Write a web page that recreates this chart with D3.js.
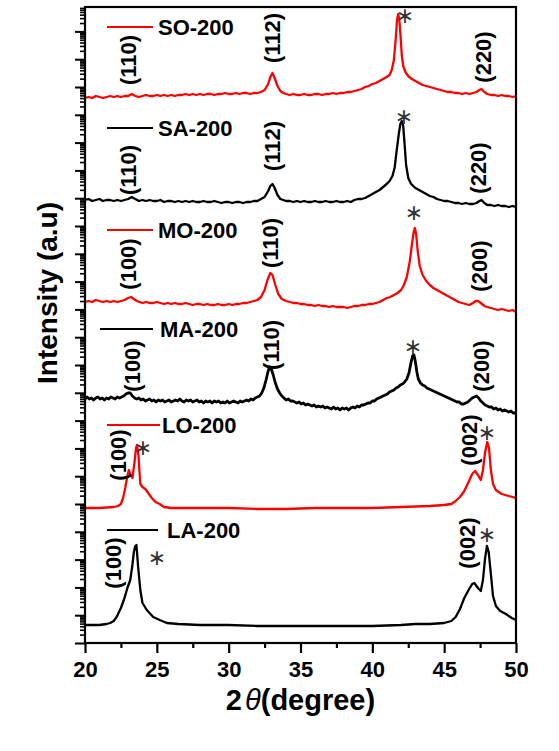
<!DOCTYPE html>
<html><head><meta charset="utf-8">
<script src="https://cdn.jsdelivr.net/npm/d3@7"></script>
<style>body{margin:0;background:#fff}svg{display:block}</style>
</head><body>
<svg id="chart" width="559" height="751"></svg>
<script>
// ---------------- DATA ----------------
const seriesNames = ["SO-200", "SA-200", "MO-200", "MA-200", "LO-200", "LA-200"];
const seriesColors = ["#ff0000", "#000000", "#ff0000", "#000000", "#ff0000", "#000000"];
// vertical stacking offsets (a.u.)
const seriesOffsets = [545, 443, 341, 244, 135, 18];
const xTicks = [20, 25, 30, 35, 40, 45, 50];

// [2theta, intensity relative to offset]
const soData = [[20,0],[20.25,1],[20.5,0],[20.75,2],[21,1],[21.25,0],[21.5,1],[21.75,2],[22,1],[22.25,2],[22.5,1],[22.75,2],[23,2],[23.25,4],[23.5,2],[23.75,1],[24,2],[24.25,3],[24.5,2],[24.75,2],[25,3],[25.25,2],[25.5,3],[25.75,2],[26,3],[26.25,2],[26.5,3],[26.75,3],[27,4],[27.25,3],[27.5,4],[27.75,3],[28,4],[28.25,3],[28.5,4],[28.75,4],[29,3],[29.25,4],[29.5,4],[29.75,5],[30,4],[30.25,4],[30.5,5],[30.75,4],[31,5],[31.25,5],[31.5,4],[31.75,5],[32,5],[32.25,6],[32.5,8],[32.75,14],[32.9,21],[33.05,25],[33.2,20],[33.4,12],[33.6,7],[33.8,5],[34,4],[34.25,3],[34.5,4],[34.75,3],[35,3],[35.25,4],[35.5,3],[35.75,3],[36,4],[36.25,4],[36.5,3],[36.75,4],[37,4],[37.25,5],[37.5,4],[37.75,5],[38,5],[38.25,6],[38.5,6],[38.75,7],[39,8],[39.25,9],[39.5,11],[39.75,12],[40,14],[40.25,15],[40.5,17],[40.75,19],[41,21],[41.2,23],[41.35,28],[41.5,38],[41.62,58],[41.72,78],[41.8,84],[41.88,78],[41.96,63],[42.05,43],[42.15,32],[42.3,26],[42.5,22],[42.75,19],[43,17],[43.25,15],[43.5,13],[43.75,12],[44,11],[44.25,10],[44.5,9],[44.75,8],[45,7],[45.25,6],[45.5,6],[45.75,5],[46,5],[46.25,4],[46.5,5],[46.75,4],[47,5],[47.25,6],[47.45,8],[47.6,9],[47.8,6],[48,4],[48.25,3],[48.5,3],[48.75,2],[49,3],[49.25,2],[49.5,2],[49.75,1],[50,2]];

const saData = [[20,0],[20.25,1],[20.5,-1],[20.75,0],[21,1],[21.25,-1],[21.5,0],[21.75,0],[22,-1],[22.25,0],[22.5,-1],[22.75,0],[23,1],[23.25,3],[23.5,1],[23.75,-1],[24,0],[24.25,-1],[24.5,0],[24.75,-1],[25,-1],[25.25,0],[25.5,-2],[25.75,-1],[26,-1],[26.25,-2],[26.5,-1],[26.75,-2],[27,-1],[27.25,-2],[27.5,-1],[27.75,-2],[28,-2],[28.25,-1],[28.5,-2],[28.75,-2],[29,-1],[29.25,-2],[29.5,-3],[29.75,-2],[30,-2],[30.25,-3],[30.5,-2],[30.75,-2],[31,-3],[31.25,-2],[31.5,-2],[31.75,-1],[32,-1],[32.25,1],[32.5,3],[32.75,9],[32.9,14],[33.05,16],[33.2,12],[33.4,5],[33.6,1],[33.8,0],[34,-1],[34.25,-1],[34.5,-2],[34.75,-1],[35,-2],[35.25,-1],[35.5,-2],[35.75,-2],[36,-1],[36.25,-2],[36.5,-2],[36.75,-1],[37,-2],[37.25,-2],[37.5,-1],[37.75,-2],[38,-2],[38.25,-1],[38.5,-2],[38.75,0],[39,1],[39.25,1],[39.5,2],[39.75,4],[40,6],[40.25,8],[40.5,10],[40.75,13],[41,16],[41.2,19],[41.4,24],[41.55,32],[41.7,50],[41.85,67],[41.95,76],[42.05,79],[42.15,74],[42.25,55],[42.35,35],[42.5,22],[42.7,16],[43,12],[43.25,10],[43.5,8],[43.75,6],[44,4],[44.25,3],[44.5,1],[44.75,0],[45,-1],[45.25,-1],[45.5,-2],[45.75,-3],[46,-3],[46.25,-4],[46.5,-3],[46.75,-4],[47,-4],[47.25,-3],[47.45,-1],[47.6,0],[47.8,-3],[48,-5],[48.25,-5],[48.5,-6],[48.75,-5],[49,-6],[49.25,-6],[49.5,-7],[49.75,-6],[50,-7]];

const moData = [[20,0],[20.25,1],[20.5,0],[20.75,2],[21,1],[21.25,0],[21.5,1],[21.75,0],[22,1],[22.25,0],[22.5,1],[22.75,2],[23,4],[23.2,5],[23.4,3],[23.6,1],[23.8,0],[24,-1],[24.25,0],[24.5,-1],[24.75,-1],[25,0],[25.25,-1],[25.5,-2],[25.75,-1],[26,-2],[26.25,-1],[26.5,-2],[26.75,-2],[27,-1],[27.25,-2],[27.5,-3],[27.75,-2],[28,-2],[28.25,-3],[28.5,-2],[28.75,-3],[29,-3],[29.25,-2],[29.5,-3],[29.75,-3],[30,-2],[30.25,-3],[30.5,-2],[30.75,-2],[31,-1],[31.25,-1],[31.5,0],[31.75,1],[32,2],[32.25,5],[32.5,12],[32.7,22],[32.9,29],[33.05,27],[33.25,17],[33.45,8],[33.7,3],[34,1],[34.25,0],[34.5,-1],[34.75,-1],[35,-2],[35.25,-2],[35.5,-3],[35.75,-3],[36,-4],[36.25,-3],[36.5,-4],[36.75,-4],[37,-5],[37.25,-4],[37.5,-5],[37.75,-5],[38,-5],[38.25,-6],[38.5,-5],[38.75,-4],[39,-4],[39.25,-3],[39.5,-3],[39.75,-2],[40,-2],[40.25,-1],[40.5,0],[40.75,2],[41,4],[41.25,5],[41.5,7],[41.75,9],[42,12],[42.2,17],[42.4,25],[42.6,40],[42.75,57],[42.88,70],[42.96,74],[43.05,68],[43.15,52],[43.3,36],[43.5,27],[43.75,21],[44,17],[44.25,14],[44.5,12],[44.75,10],[45,8],[45.25,6],[45.5,4],[45.75,2],[46,0],[46.25,-1],[46.5,-2],[46.75,-3],[47,-1],[47.2,1],[47.35,1],[47.55,-1],[47.8,-4],[48,-5],[48.25,-6],[48.5,-7],[48.75,-8],[49,-7],[49.25,-8],[49.5,-9],[49.75,-8],[50,-10]];

const maData = [[20,0],[20.15,2],[20.3,0],[20.45,1],[20.6,-1],[20.75,1],[20.9,2],[21.05,0],[21.2,1],[21.35,-1],[21.5,1],[21.65,0],[21.8,2],[21.95,1],[22.1,0],[22.25,2],[22.4,1],[22.55,2],[22.7,3],[22.85,5],[23.0,6],[23.15,6],[23.3,3],[23.45,1],[23.6,0],[23.75,1],[23.9,-1],[24.05,0],[24.2,-2],[24.35,-1],[24.5,0],[24.65,-2],[24.8,-1],[24.95,-3],[25.1,-1],[25.25,-2],[25.4,-1],[25.55,-3],[25.7,-2],[25.85,-1],[26.0,-3],[26.15,-2],[26.3,-1],[26.45,-2],[26.6,0],[26.75,-2],[26.9,-3],[27.05,-1],[27.2,-2],[27.35,-1],[27.5,-3],[27.65,-2],[27.8,-1],[27.95,-3],[28.1,-2],[28.25,-4],[28.4,-2],[28.55,-3],[28.7,-2],[28.85,-4],[29.0,-2],[29.15,-3],[29.3,-2],[29.45,-4],[29.6,-3],[29.75,-4],[29.9,-2],[30.05,-4],[30.2,-3],[30.35,-2],[30.5,-3],[30.65,-4],[30.8,-2],[30.95,-3],[31.1,-2],[31.25,-1],[31.4,-2],[31.55,0],[31.7,-1],[31.85,1],[32.0,2],[32.15,3],[32.3,6],[32.45,11],[32.6,19],[32.75,28],[32.85,32],[32.95,31],[33.1,24],[33.25,16],[33.4,10],[33.55,6],[33.7,3],[33.85,1],[34.0,-1],[34.15,0],[34.3,-2],[34.45,-2],[34.6,-3],[34.75,-4],[34.9,-3],[35.05,-5],[35.2,-4],[35.35,-6],[35.5,-5],[35.65,-6],[35.8,-7],[35.95,-6],[36.1,-8],[36.25,-7],[36.4,-8],[36.55,-7],[36.7,-9],[36.85,-8],[37.0,-9],[37.15,-10],[37.3,-8],[37.45,-10],[37.6,-9],[37.75,-11],[37.9,-9],[38.05,-10],[38.2,-9],[38.35,-11],[38.5,-9],[38.65,-8],[38.8,-9],[38.95,-7],[39.1,-8],[39.25,-6],[39.4,-6],[39.55,-5],[39.7,-4],[39.85,-4],[40.0,-2],[40.15,-2],[40.3,0],[40.45,1],[40.6,2],[40.75,3],[40.9,4],[41.05,5],[41.2,7],[41.35,8],[41.5,9],[41.65,11],[41.8,12],[41.95,14],[42.1,15],[42.25,17],[42.4,20],[42.55,26],[42.7,37],[42.8,43],[42.9,44],[43.0,37],[43.1,27],[43.2,20],[43.35,16],[43.5,14],[43.65,13],[43.8,11],[43.95,10],[44.1,9],[44.25,8],[44.4,7],[44.55,6],[44.7,5],[44.85,4],[45.0,3],[45.15,2],[45.3,1],[45.45,0],[45.6,-1],[45.75,-2],[45.9,-3],[46.05,-3],[46.2,-5],[46.35,-5],[46.5,-4],[46.65,-3],[46.8,-1],[46.95,1],[47.1,2],[47.25,3],[47.4,1],[47.55,-2],[47.7,-4],[47.85,-6],[48.0,-7],[48.15,-8],[48.3,-8],[48.45,-10],[48.6,-9],[48.75,-11],[48.9,-10],[49.05,-12],[49.2,-11],[49.35,-12],[49.5,-13],[49.65,-12],[49.8,-14],[50.0,-14]];

const loData = [[20,0],[21,0],[22,1],[22.3,2],[22.5,4],[22.65,10],[22.8,20],[22.95,32],[23.05,38],[23.15,34],[23.3,30],[23.45,46],[23.55,60],[23.62,63],[23.72,53],[23.85,24],[24.0,21],[24.2,19],[24.4,15],[24.65,10],[24.9,6],[25.2,4],[25.5,1],[26,0],[27,0],[28,0],[30,0],[32,-1],[34,-1],[36,0],[38,0],[40,0],[42,1],[44,2],[45,3],[45.5,4],[45.8,7],[46.1,11],[46.4,17],[46.7,26],[46.95,34],[47.15,37],[47.35,33],[47.55,28],[47.7,38],[47.85,56],[48.0,66],[48.12,60],[48.25,38],[48.4,24],[48.6,18],[49,14],[49.5,12],[50,10]];

const laData = [[20,0],[21,0],[21.5,1],[21.75,2],[22.0,4],[22.2,8],[22.5,17],[22.75,27],[22.95,37],[23.15,45],[23.3,60],[23.4,73],[23.5,79],[23.58,80],[23.7,58],[23.85,35],[24.0,22],[24.3,15],[24.75,8],[25.2,5],[25.7,2],[26.5,1],[28,0],[30,0],[32,-1],[34,-1],[36,-1],[38,-1],[40,-1],[42,0],[43,1],[44,1],[45,2],[45.5,4],[45.8,8],[46.1,16],[46.4,27],[46.7,35],[46.95,41],[47.1,42],[47.35,37],[47.55,34],[47.7,45],[47.85,67],[47.98,79],[48.1,73],[48.25,51],[48.4,29],[48.6,19],[48.9,14],[49.3,11],[49.7,7],[50,5]];

const seriesData = [soData, saData, moData, maData, loData, laData];

// peak labels: [text, 2theta, intensity]
const peakLabels = [
  ["(110)", 22.99, 583], ["(112)", 33.02, 605], ["(220)", 47.70, 586],
  ["(110)", 22.99, 473], ["(112)", 33.02, 497], ["(220)", 47.35, 475],
  ["(100)", 22.99, 379], ["(110)", 32.88, 400], ["(200)", 47.42, 377],
  ["(100)", 23.27, 277], ["(110)", 32.95, 298], ["(200)", 47.56, 277],
  ["(100)", 22.30, 188], ["(002)", 46.73, 203],
  ["(100)", 21.95, 80],  ["(002)", 46.59, 100]
];
// asterisk markers: [2theta, intensity]
const starMarks = [[42.27, 627], [42.20, 526], [42.90, 430], [42.83, 296], [24.04, 195], [47.98, 210], [25.01, 85], [47.98, 108]];

// ---------------- LAYOUT ----------------
const FONT = "Arial, 'Liberation Sans', Helvetica, sans-serif";
const L = 85, R = 516, T = 7, B = 643;
const svg = d3.select("#chart");
svg.append("rect").attr("width", 559).attr("height", 751).attr("fill", "#fff");

const x = d3.scaleLinear().domain([20, 50]).range([L, R]);
const y = d3.scaleLinear().domain([0, 636]).range([B, T]);
// decorative log-style intensity axis (ticks only)
const decades = (B - T) / 27.8;
const yLog = d3.scaleLog().domain([1, Math.pow(10, decades)]).range([B, T]);

svg.append("clipPath").attr("id", "clip").append("rect")
  .attr("x", L).attr("y", T).attr("width", R - L).attr("height", B - T);

const line = d3.line().x(d => x(d[0])).y(d => y(d[1]));
const traces = svg.append("g").attr("clip-path", "url(#clip)");
seriesData.forEach((data, i) => {
  const off = seriesOffsets[i];
  traces.append("path")
    .datum(data.map(d => [d[0], d[1] + off]))
    .attr("fill", "none")
    .attr("stroke", seriesColors[i])
    .attr("stroke-width", i === 3 ? 2.8 : 2.3)
    .attr("stroke-linejoin", "round")
    .attr("d", line);
});

// frame
svg.append("rect").attr("x", L).attr("y", T).attr("width", R - L).attr("height", B - T)
  .attr("fill", "none").attr("stroke", "#000").attr("stroke-width", 2.2);

// x axis
const xMinor = [22.5, 27.5, 32.5, 37.5, 42.5, 47.5];
const xAxis = svg.append("g").attr("transform", `translate(0,${B})`)
  .call(d3.axisBottom(x).tickValues(xTicks).tickSize(10).tickPadding(8).tickFormat(d3.format("d")));
svg.append("g").attr("transform", `translate(0,${B})`)
  .call(d3.axisBottom(x).tickValues(xMinor).tickSize(5).tickFormat(""))
  .call(g => g.select(".domain").remove());
xAxis.select(".domain").remove();
svg.selectAll(".tick line").attr("stroke-width", 2.2);
xAxis.selectAll("text").attr("font-family", FONT).attr("font-size", 22).attr("font-weight", "bold").attr("fill", "#000");

// y axis (log-style tick pattern)
const majors = [], minors = [];
for (let k = 0; k <= Math.floor(decades); k++) {
  for (let m = 1; m <= 9; m++) {
    const v = m * Math.pow(10, k);
    if (v > Math.pow(10, decades)) continue;
    (m === 1 ? majors : minors).push(v);
  }
}
const yA1 = svg.append("g").attr("transform", `translate(${L},0)`)
  .call(d3.axisLeft(yLog).tickValues(majors).tickSize(10).tickFormat(""));
const yA2 = svg.append("g").attr("transform", `translate(${L},0)`)
  .call(d3.axisLeft(yLog).tickValues(minors).tickSize(5).tickFormat(""));
yA1.select(".domain").remove(); yA2.select(".domain").remove();
yA1.selectAll(".tick line").attr("stroke-width", 2);
yA2.selectAll(".tick line").attr("stroke-width", 1.6);

// axis titles
const xt = svg.append("text").attr("x", (L + R) / 2).attr("y", 710)
  .attr("text-anchor", "middle").attr("font-family", FONT).attr("font-size", 29).attr("font-weight", "bold");
xt.append("tspan").text("2");
xt.append("tspan").attr("dx", 3).attr("font-style", "italic").attr("font-weight", "normal").text("θ");
xt.append("tspan").text("(degree)");

svg.append("text").attr("transform", "translate(57,293) rotate(-90)")
  .attr("text-anchor", "middle").attr("font-family", FONT).attr("font-size", 28).attr("font-weight", "bold")
  .text("Intensity (a.u)");

// legend entries inside plot
const legendPos = [[107, 153, 27, 158], [107, 153, 128, 158], [107, 153, 230, 158], [100, 153, 329, 160], [107, 160, 425, 162], [107, 158, 530, 167]];
seriesNames.forEach((name, i) => {
  const [x1, x2, ly, tx] = legendPos[i];
  svg.append("line").attr("x1", x1).attr("x2", x2).attr("y1", ly).attr("y2", ly)
    .attr("stroke", seriesColors[i]).attr("stroke-width", 2.2);
  svg.append("text").attr("x", tx).attr("y", ly + 7.5)
    .attr("font-family", FONT).attr("font-size", 22).attr("font-weight", "bold").attr("fill", "#000")
    .text(name);
});

// peak labels
peakLabels.forEach(([t, a, v]) => {
  svg.append("text")
    .attr("transform", `translate(${x(a)},${y(v)}) rotate(-90)`)
    .attr("text-anchor", "middle").attr("dy", "0.36em")
    .attr("font-family", FONT).attr("font-size", 22).attr("font-weight", "bold").attr("fill", "#000")
    .text(t);
});

// asterisks
starMarks.forEach(([a, v]) => {
  svg.append("text").attr("x", x(a)).attr("y", y(v))
    .attr("text-anchor", "middle").attr("dy", "0.32em")
    .attr("font-family", "'DejaVu Sans', sans-serif").attr("font-size", 22).attr("fill", "#333")
    .text("∗");
});
</script>
</body></html>
